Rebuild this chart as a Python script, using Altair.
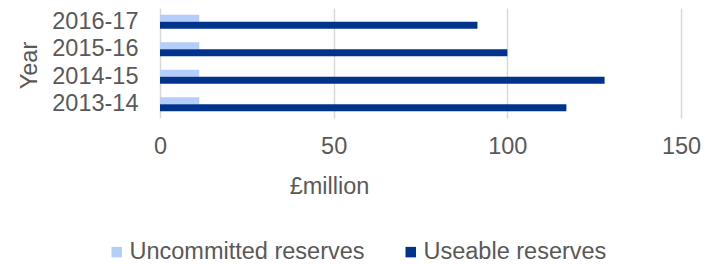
import altair as alt
import pandas as pd

years = ["2016-17", "2015-16", "2014-15", "2013-14"]
series = ["Uncommitted reserves", "Useable reserves"]
uncommitted = [11.3, 11.3, 11.3, 11.3]
useable = [91.4, 100, 128, 117]
x_ticks = [0, 50, 100, 150]
colors = ["#b4cdfa", "#00338c"]

rows = []
for i, y in enumerate(years):
    rows.append({"Year": y, "Series": series[0], "Value": uncommitted[i]})
    rows.append({"Year": y, "Series": series[1], "Value": useable[i]})
df = pd.DataFrame(rows)

FONT = "Liberation Sans"
GREY = "#595959"
FS = 23.5

chart = alt.Chart(df).mark_bar().encode(
    x=alt.X("Value:Q",
            scale=alt.Scale(domain=[0, 150], nice=False),
            axis=alt.Axis(values=x_ticks, title="£million", domain=False, ticks=False,
                          tickSize=0, grid=True, gridColor="#d9d9d9", gridWidth=1.5,
                          labelFont=FONT, labelFontSize=FS, labelColor=GREY,
                          labelBaseline="alphabetic", labelPadding=35,
                          labelFlush=False,
                          titleFont=FONT, titleFontSize=FS, titleColor=GREY,
                          titleFontWeight="normal", titleX=169, titleY=75,
                          titleBaseline="alphabetic", titleAlign="center",
                          titleAnchor="start")),
    y=alt.Y("Year:N", sort=years,
            scale=alt.Scale(paddingInner=0.49, paddingOuter=0.245),
            axis=alt.Axis(title="Year", domain=False, ticks=False, tickSize=0,
                          labelFont=FONT, labelFontSize=FS, labelColor=GREY,
                          labelPadding=22,
                          titleFont=FONT, titleFontSize=FS, titleColor=GREY,
                          titleFontWeight="normal", titleAngle=270,
                          titleX=-131, titleY=57, titleBaseline="middle",
                          titleAlign="center", titleAnchor="start")),
    yOffset=alt.YOffset("Series:N", sort=series, scale=alt.Scale(paddingInner=0, paddingOuter=0)),
    color=alt.Color("Series:N", sort=series,
                    scale=alt.Scale(domain=series, range=colors),
                    legend=alt.Legend(title=None, orient="none", direction="horizontal",
                                      legendX=-55, legendY=232,
                                      symbolType="square", symbolSize=110,
                                      symbolStrokeWidth=0, symbolOpacity=1,
                                      labelFont=FONT, labelFontSize=FS, labelColor=GREY,
                                      labelLimit=0, labelOffset=1, columnPadding=34)),
).properties(
    width=521, height=110,
    background="white",
    autosize=alt.AutoSizeParams(type="none"),
    padding={"left": 152, "top": 0, "right": 21, "bottom": 146},
).configure_view(strokeWidth=0, stroke=None)

chart.save("out.html", embed_options={"renderer": "svg", "actions": False})
